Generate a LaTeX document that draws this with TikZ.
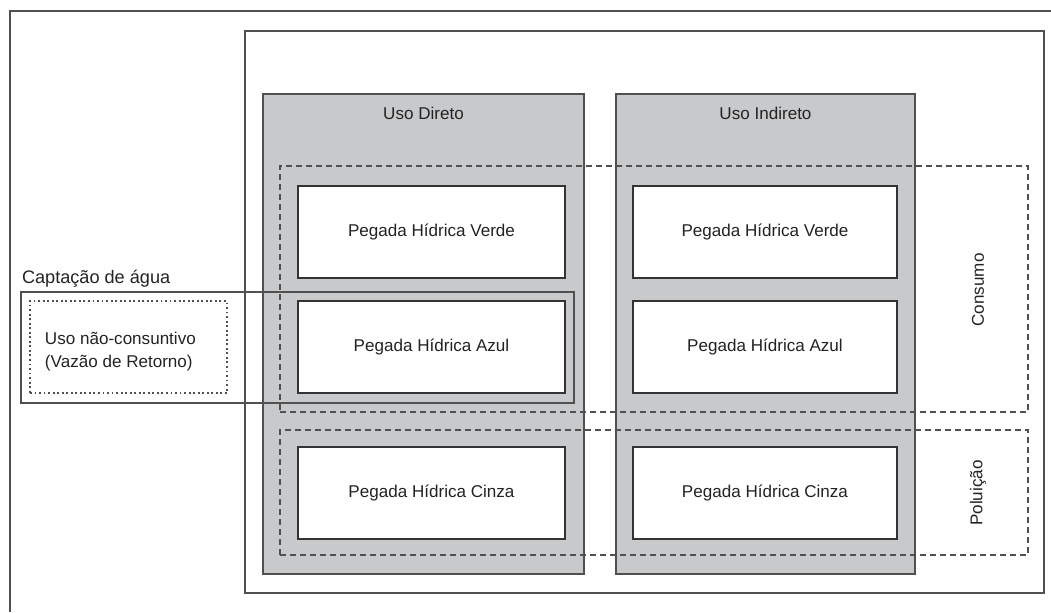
\documentclass[tikz,border=0pt]{standalone}
\usepackage{fontspec}
\setmainfont{Liberation Sans}
\usepackage{tikz}

\definecolor{painel}{RGB}{200,201,203}
\definecolor{linha}{RGB}{80,80,80}
\definecolor{texto}{RGB}{35,35,35}

\begin{document}
\begin{tikzpicture}[x=0.75pt,y=-0.75pt,
		every node/.style={inner sep=0pt,outer sep=0pt,text=texto,font=\fontsize{12.8}{17.5}\selectfont},
		moldura/.style={draw=linha,line width=1.1pt},
		coluna/.style={rectangle,draw=linha,line width=1.3pt,fill=painel},
		caixa/.style={rectangle,draw=black!80,line width=1.5pt,fill=white,minimum height=69pt},
		grupo/.style={rectangle,draw=linha,line width=1.5pt,dash pattern=on 4.5pt off 3pt}]
	\useasboundingbox (0,0) rectangle (1051,612);

	% molduras
	\draw[moldura] (10,612) -- (10,11) -- (1051,11);
	\node[rectangle,moldura,minimum width=599pt,minimum height=421.5pt] (quadro) at (644.5,312) {};

	% colunas de uso
	\begin{scope}[every node/.append style={coluna,minimum height=360pt}]
		\node[minimum width=240.75pt] (direto) at (423.5,334) {};
		\node[minimum width=224.25pt] (indireto) at (765.5,334) {};
	\end{scope}
	\node (tdireto) at (423.5,113) {Uso Direto};
	\node (tindireto) at (765.5,113) {Uso Indireto};

	% captacao
	\node[rectangle,draw=linha,line width=1pt,minimum width=414.75pt,minimum height=83.25pt] (captacao) at (297.5,347.5) {};
	\node[anchor=base west,font=\fontsize{13.6}{17}\selectfont] (tcaptacao) at (22,283) {Captação de água};
	\node[rectangle,draw=linha,line width=1.4pt,dotted,minimum width=147.75pt,minimum height=69pt] (retorno) at (128.5,347) {};
	\node[anchor=west,align=left] (tretorno) at (45,351.5) {Uso não-consuntivo\\(Vazão de Retorno)};

	% pegadas
	\begin{scope}[every node/.append style={caixa}]
		\node[minimum width=200.25pt] (verde1) at (431.5,231.5) {Pegada Hídrica Verde};
		\node[minimum width=200.25pt] (azul1) at (431.5,347) {Pegada Hídrica Azul};
		\node[minimum width=200.25pt] (cinza1) at (431.5,493) {Pegada Hídrica Cinza};
		\node[minimum width=198pt] (verde2) at (765,231.5) {Pegada Hídrica Verde};
		\node[minimum width=198pt] (azul2) at (765,347) {Pegada Hídrica Azul};
		\node[minimum width=198pt] (cinza2) at (765,493) {Pegada Hídrica Cinza};
	\end{scope}

	% consumo e poluicao
	\node[grupo,minimum width=561pt,minimum height=184.5pt] (consumo) at (654,289) {};
	\node[grupo,minimum width=561pt,minimum height=93.75pt] (poluicao) at (654,492.5) {};
	\node[rotate=90] (tconsumo) at (978,290) {Consumo};
	\node[rotate=90] (tpoluicao) at (978,493) {Poluição};
\end{tikzpicture}
\end{document}
